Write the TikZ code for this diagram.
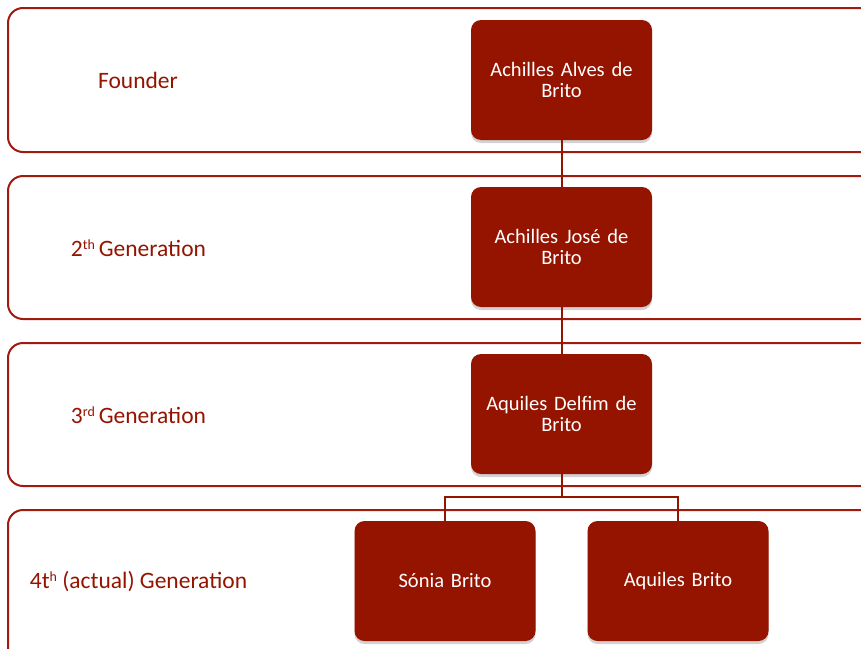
\documentclass[tikz,border=0pt]{standalone}
\usepackage{fontspec}
\setmainfont{Carlito}
\usetikzlibrary{shadows}
\definecolor{brick}{HTML}{941400}
\definecolor{bandline}{HTML}{A01A10}
\newcommand{\mysupr}[1]{\raisebox{7pt}{\fontsize{14}{14}\selectfont #1}}
\tikzset{
  band/.style={draw=bandline, line width=2pt, rounded corners=15pt, fill=white},
  person/.style={fill=brick, draw=none, rounded corners=10pt, minimum width=181pt, minimum height=120pt,
    text=white, align=center, text width=170pt, font=\fontsize{20.5}{21.5}\selectfont,
    drop shadow={opacity=0.35, shadow xshift=0pt, shadow yshift=-3pt}},
  genlabel/.style={text=brick, font=\fontsize{23.5}{27}\selectfont, inner sep=0pt},
  conn/.style={draw=brick, line width=2pt}
}
\begin{document}
\begin{tikzpicture}[x=1pt,y=-1pt]
\useasboundingbox (0,0) rectangle (861,648);
\clip (0,0) rectangle (861,648);
% bands
\draw[band] (8,8) rectangle (890,152);
\draw[band] (8,176) rectangle (890,319);
\draw[band] (8,343) rectangle (890,486);
\draw[band] (8,510) rectangle (890,690);
% labels
\node[genlabel] (l1) at (138,80) {Founder};
\node[genlabel] (l2) at (138.5,248) {2\mysupr{th}\,Generation};
\node[genlabel] (l3) at (138.5,415) {3\mysupr{rd}\,Generation};
\node[genlabel] (l4) at (138.5,582) {4t\mysupr{h} (actual) Generation};
% connectors
\coordinate (j) at (561.5,497);
\node[person] (b1) at (561.5,80) {Achilles Alves de\\Brito};
\node[person] (b2) at (561.5,247) {Achilles José de\\Brito};
\node[person] (b3) at (561.5,414) {Aquiles Delfim de\\Brito};
\node[person] (b4) at (445,581) {\raisebox{-2pt}{Sónia Brito}};
\node[person] (b5) at (678,581) {\raisebox{-2pt}{Aquiles Brito}};
\draw[conn] (b1.south) -- (b2.north);
\draw[conn] (b2.south) -- (b3.north);
\draw[conn] (b3.south) -- (j);
\draw[conn] (b4.north) |- (j) -| (b5.north);
\end{tikzpicture}
\end{document}
